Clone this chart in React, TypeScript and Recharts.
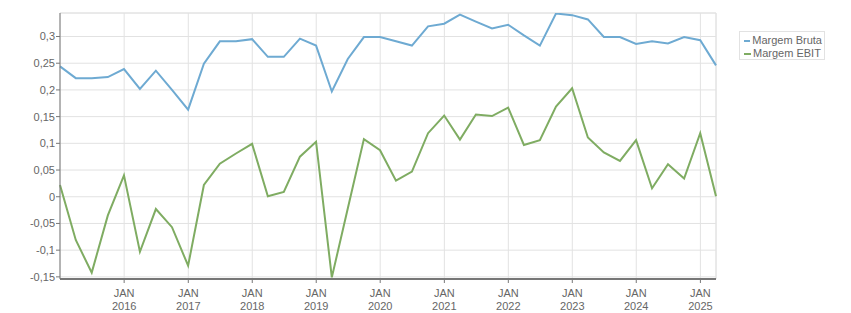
import { CartesianGrid, Line, LineChart, ReferenceLine, XAxis, YAxis } from "recharts";

// quarter-end dates
const quarters = [
  "2014-12-31", "2015-03-31", "2015-06-30", "2015-09-30",
  "2015-12-31", "2016-03-31", "2016-06-30", "2016-09-30",
  "2016-12-31", "2017-03-31", "2017-06-30", "2017-09-30",
  "2017-12-31", "2018-03-31", "2018-06-30", "2018-09-30",
  "2018-12-31", "2019-03-31", "2019-06-30", "2019-09-30",
  "2019-12-31", "2020-03-31", "2020-06-30", "2020-09-30",
  "2020-12-31", "2021-03-31", "2021-06-30", "2021-09-30",
  "2021-12-31", "2022-03-31", "2022-06-30", "2022-09-30",
  "2022-12-31", "2023-03-31", "2023-06-30", "2023-09-30",
  "2023-12-31", "2024-03-31", "2024-06-30", "2024-09-30",
  "2024-12-31", "2025-03-31",
];

const margemBruta = [
  0.244, 0.222, 0.222, 0.224, 0.239, 0.202, 0.236, 0.2, 0.163, 0.249,
  0.291, 0.291, 0.295, 0.262, 0.262, 0.296, 0.283, 0.197, 0.258, 0.299,
  0.299, 0.291, 0.283, 0.319, 0.324, 0.341, 0.328, 0.315, 0.322, 0.302,
  0.283, 0.343, 0.34, 0.332, 0.299, 0.299, 0.286, 0.291, 0.287, 0.299,
  0.293, 0.246,
];

const margemEbit = [
  0.022, -0.081, -0.142, -0.035, 0.04, -0.103, -0.023, -0.057, -0.129, 0.022,
  0.062, 0.081, 0.099, 0.001, 0.009, 0.075, 0.103, -0.151, -0.022, 0.108,
  0.087, 0.03, 0.047, 0.119, 0.152, 0.107, 0.154, 0.151, 0.167, 0.097,
  0.106, 0.169, 0.203, 0.111, 0.083, 0.067, 0.106, 0.016, 0.061, 0.034,
  0.119, 0.001,
];

const yTicks = [-0.15, -0.1, -0.05, 0, 0.05, 0.1, 0.15, 0.2, 0.25, 0.3];
const yearLabels = ["2016", "2017", "2018", "2019", "2020", "2021", "2022", "2023", "2024", "2025"];

const BLUE = "#6eaad2";
const GREEN = "#7fac62";
const AXIS = "#777";
const GRID = "#e2e2e2";
const TEXT = "#666";
const FONT = "'Liberation Sans', Arial, sans-serif";

const ts = (d: string) => Date.parse(d + "T00:00:00Z");
const data = quarters.map((q, i) => ({ t: ts(q), bruta: margemBruta[i], ebit: margemEbit[i] }));
const xTicks = yearLabels.map((y) => ts(y + "-01-01"));
const xMin = ts(quarters[0]);
const xMax = ts(quarters[quarters.length - 1]);
const Y_MIN = -0.154;
const Y_MAX = 0.344;

function YearTick(props: any) {
  const { x, y, payload } = props;
  const year = new Date(payload.value).getUTCFullYear();
  return (
    <text x={x} y={y} textAnchor="middle" fill={TEXT} fontSize={11} fontFamily={FONT}>
      <tspan x={x} dy="0.71em">JAN</tspan>
      <tspan x={x} dy="1.2em">{year}</tspan>
    </text>
  );
}

function LegendBox() {
  const items = [
    { name: "Margem Bruta", color: BLUE },
    { name: "Margem EBIT", color: GREEN },
  ];
  return (
    <div
      style={{
        position: "absolute",
        left: 739,
        top: 31,
        width: 78,
        height: 23,
        border: `1px solid ${GRID}`,
        padding: "2px 2px 2px 4px",
        fontFamily: FONT,
        fontSize: 11,
        color: TEXT,
        background: "#fff",
        lineHeight: "13px",
      }}
    >
      {items.map((it) => (
        <div key={it.name} style={{ display: "flex", alignItems: "center", whiteSpace: "nowrap" }}>
          <span style={{ display: "inline-block", width: 7, height: 2, background: it.color, marginRight: 2 }} />
          {it.name}
        </div>
      ))}
    </div>
  );
}

export default function App() {
  return (
    <div style={{ position: "absolute", left: 0, top: 0, width: 851, height: 313, background: "#fff" }}>
      <LineChart width={851} height={313} data={data} margin={{ top: 13, right: 135, bottom: 0, left: 0 }}>
        <CartesianGrid stroke={GRID} strokeWidth={1} />
        <ReferenceLine y={Y_MAX} stroke={GRID} />
        <ReferenceLine x={xMax} stroke={GRID} />
        <XAxis
          dataKey="t"
          type="number"
          scale="time"
          domain={[xMin, xMax]}
          ticks={xTicks}
          interval={0}
          height={34}
          tick={<YearTick />}
          tickSize={4}
          tickMargin={6}
          tickLine={{ stroke: AXIS }}
          axisLine={{ stroke: AXIS, strokeWidth: 2 }}
        />
        <YAxis
          type="number"
          domain={[Y_MIN, Y_MAX]}
          ticks={yTicks}
          interval={0}
          width={60}
          tickFormatter={(v) => String(v).replace(".", ",")}
          tick={{ fill: TEXT, fontSize: 11, fontFamily: FONT }}
          tickSize={4}
          tickMargin={1}
          tickLine={{ stroke: AXIS }}
          axisLine={{ stroke: AXIS }}
          allowDataOverflow
        />
        <Line
          dataKey="bruta"
          name="Margem Bruta"
          stroke={BLUE}
          strokeWidth={2}
          dot={false}
          type="linear"
          isAnimationActive={false}
        />
        <Line
          dataKey="ebit"
          name="Margem EBIT"
          stroke={GREEN}
          strokeWidth={2}
          dot={false}
          type="linear"
          isAnimationActive={false}
        />
      </LineChart>
      <LegendBox />
    </div>
  );
}
